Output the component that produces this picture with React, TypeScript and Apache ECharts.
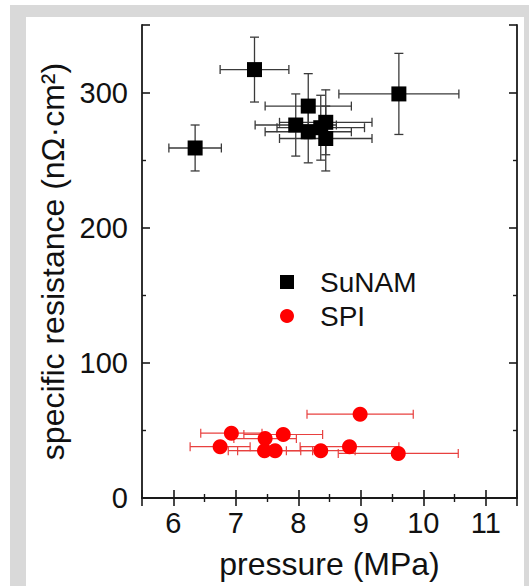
import React, { useEffect, useRef } from "react";
import * as echarts from "echarts";

const FONT = "'Liberation Sans', Arial, sans-serif";

// SuNAM data: pressure (MPa), specific resistance (nΩ·cm²), and error half-widths
const SUNAM_P = [6.35, 7.3, 9.61, 8.16, 7.96, 8.16, 8.44, 8.44, 8.36];
const SUNAM_R = [259, 317, 299, 290, 276, 271, 278, 266, 274];
const SUNAM_PERR = [0.42, 0.55, 0.96, 0.69, 0.65, 0.69, 0.74, 0.74, 0.7];
const SUNAM_RERR = [17, 24, 30, 24, 23, 23, 24, 24, 24];

// SPI data
const SPI_P = [8.99, 6.93, 7.76, 7.47, 6.75, 7.46, 7.63, 8.36, 8.82, 9.6];
const SPI_R = [62, 48, 47, 44, 38, 35, 35, 35, 38, 33];
const SPI_PERR = [0.85, 0.49, 0.63, 0.5, 0.48, 0.58, 0.6, 0.55, 0.79, 0.96];
const SPI_RERR = [2, 2, 2, 2, 2, 2, 2, 2, 2, 2];

const X_MIN = 5.5;
const X_MAX = 11.5;
const Y_MIN = 0;
const Y_MAX = 350;

function errRender(color: string, cap: number, lw: number) {
  return (params: any, api: any) => {
    const x = api.value(0);
    const y = api.value(1);
    const xe = api.value(2);
    const ye = api.value(3);
    const pL = api.coord([x - xe, y]);
    const pR = api.coord([x + xe, y]);
    const pT = api.coord([x, y + ye]);
    const pB = api.coord([x, y - ye]);
    const style = { stroke: color, lineWidth: lw, fill: null };
    return {
      type: "group",
      children: [
        { type: "line", shape: { x1: pL[0], y1: pL[1], x2: pR[0], y2: pR[1] }, style },
        { type: "line", shape: { x1: pL[0], y1: pL[1] - cap, x2: pL[0], y2: pL[1] + cap }, style },
        { type: "line", shape: { x1: pR[0], y1: pR[1] - cap, x2: pR[0], y2: pR[1] + cap }, style },
        { type: "line", shape: { x1: pT[0], y1: pT[1], x2: pB[0], y2: pB[1] }, style },
        { type: "line", shape: { x1: pT[0] - cap, y1: pT[1], x2: pT[0] + cap, y2: pT[1] }, style },
        { type: "line", shape: { x1: pB[0] - cap, y1: pB[1], x2: pB[0] + cap, y2: pB[1] }, style },
      ],
    };
  };
}

export default function App() {
  const ref = useRef<HTMLDivElement>(null);

  useEffect(() => {
    if (!ref.current) return;
    const chart = echarts.init(ref.current, null, { renderer: "svg" });

    const sunamPts = SUNAM_P.map((p, i) => [p, SUNAM_R[i]]);
    const spiPts = SPI_P.map((p, i) => [p, SPI_R[i]]);
    const sunamErr = SUNAM_P.map((p, i) => [p, SUNAM_R[i], SUNAM_PERR[i], SUNAM_RERR[i]]);
    const spiErr = SPI_P.map((p, i) => [p, SPI_R[i], SPI_PERR[i], SPI_RERR[i]]);

    const axisLine = { show: true, lineStyle: { color: "#1a1a1a", width: 1.8 } };
    const tick = { show: true, inside: true, length: 8, lineStyle: { color: "#1a1a1a", width: 1.6 } };
    const minor = { show: true, splitNumber: 2, length: 4, lineStyle: { color: "#1a1a1a", width: 1.4 } };

    const xBase = {
      type: "value",
      min: X_MIN,
      max: X_MAX,
      splitNumber: 5,
      axisLine,
      axisTick: tick,
      minorTick: minor,
      splitLine: { show: false },
      minorSplitLine: { show: false },
    };
    const yBase = {
      type: "value",
      min: Y_MIN,
      max: Y_MAX,
      interval: 100,
      axisLine,
      axisTick: tick,
      minorTick: minor,
      splitLine: { show: false },
      minorSplitLine: { show: false },
    };

    chart.setOption({
      animation: false,
      backgroundColor: "transparent",
      textStyle: { fontFamily: FONT },
      grid: { left: 142, right: 12, top: 25, bottom: 88, containLabel: false },
      legend: {
        orient: "vertical",
        left: 275,
        top: 263,
        itemWidth: 14,
        itemHeight: 14,
        itemGap: 6,
        textStyle: { fontSize: 28, color: "#111", fontFamily: FONT, padding: [0, 0, 0, 21] },
        data: [
          { name: "SuNAM", icon: "rect" },
          { name: "SPI", icon: "circle" },
        ],
      },
      xAxis: [
        {
          ...xBase,
          position: "bottom",
          name: "pressure (MPa)",
          nameLocation: "middle",
          nameGap: 50,
          nameTextStyle: { fontSize: 32, color: "#111", fontFamily: FONT },
          axisLabel: {
            show: true,
            fontSize: 29,
            color: "#111",
            margin: 10,
            fontFamily: FONT,
            formatter: (v: number) => (Number.isInteger(v) ? String(v) : ""),
          },
        },
        { ...xBase, position: "top", axisLabel: { show: false } },
      ],
      yAxis: [
        {
          ...yBase,
          position: "left",
          name: "specific resistance (nΩ·cm²)",
          nameLocation: "middle",
          nameGap: 72,
          nameTextStyle: { fontSize: 32, color: "#111", fontFamily: FONT },
          axisLabel: {
            show: true,
            fontSize: 29,
            color: "#111",
            margin: 14,
            fontFamily: FONT,
            formatter: (v: number) => (v % 100 === 0 ? String(v) : ""),
          },
        },
        { ...yBase, position: "right", axisLabel: { show: false } },
      ],
      series: [
        {
          name: "SuNAM err",
          type: "custom",
          xAxisIndex: 0,
          yAxisIndex: 0,
          renderItem: errRender("#3a3a3a", 4.5, 1.3),
          encode: { x: 0, y: 1 },
          data: sunamErr,
          z: 1,
          silent: true,
        },
        {
          name: "SPI err",
          type: "custom",
          xAxisIndex: 0,
          yAxisIndex: 0,
          renderItem: errRender("#e8403f", 4.5, 1.2),
          encode: { x: 0, y: 1 },
          data: spiErr,
          z: 1,
          silent: true,
        },
        {
          name: "SuNAM",
          type: "scatter",
          symbol: "rect",
          symbolSize: 15,
          itemStyle: { color: "#000", opacity: 1 },
          data: sunamPts,
          z: 3,
        },
        {
          name: "SPI",
          type: "scatter",
          symbol: "circle",
          symbolSize: 15,
          itemStyle: { color: "#ff0000", opacity: 1 },
          data: spiPts,
          z: 3,
        },
      ],
    });

    return () => chart.dispose();
  }, []);

  return (
    <div style={{ position: "fixed", left: 0, top: 0, width: 529, height: 586, background: "#fff" }}>
      <div style={{ position: "absolute", left: 10, top: 5, width: 519, height: 581, background: "#d9d9d9" }} />
      <div style={{ position: "absolute", left: 26, top: 17, width: 498, height: 569, background: "#fff" }} />
      <div ref={ref} style={{ position: "absolute", left: 0, top: 0, width: 529, height: 586 }} />
    </div>
  );
}
